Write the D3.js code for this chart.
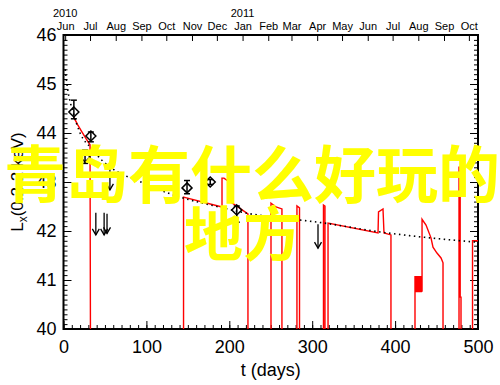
<!DOCTYPE html>
<html>
<head>
<meta charset="utf-8">
<script src="https://cdn.jsdelivr.net/npm/d3@7"></script>
<style>
  body { margin: 0; background: #fff; }
  text { font-family: "Liberation Sans", Arial, sans-serif; }
</style>
</head>
<body>
<div id="chart"></div>
<script>
// ---- data ----
const xTicks = [0, 100, 200, 300, 400, 500];
const yTicks = [40, 41, 42, 43, 44, 45, 46];
const startDate = new Date(2010, 4, 30);          // t = 0
const yearLabels = ["2010", "2011"];
const yearDates = [new Date(2010, 5, 1), new Date(2011, 0, 1)];

// detections (diamonds with error bars)
const detT  = [12.5, 33, 26, 149, 177, 209];
const detL  = [44.43, 43.94, 43.51, 42.88, 43.00, 42.43];
const detLo = [44.29, 43.82, 43.38, 42.76, 42.95, 42.18];
const detHi = [44.67, 44.02, 43.65, 43.03, 43.05, 42.51];

// upper limits (arrows)
const limT   = [39, 49, 52.5, 56, 307];
const limTop = [42.37, 42.37, 42.35, 43.35, 42.14];
const limL   = [41.92, 41.92, 41.95, 42.84, 41.65];

// model curve (dotted)
const modelT = [2, 5, 12, 20, 34, 46, 56, 96, 130, 190, 222, 261, 307, 382, 442, 500];
const modelL = [45.3, 44.9, 44.4, 44.0, 43.68, 43.45, 43.31, 42.98, 42.75, 42.48, 42.36, 42.27, 42.18, 41.98, 41.86, 41.77];

// red light-curve pieces [t, L]
const seg1 = [[12.5,44.32],[17,44.17],[22,44.03],[27,43.89],[32,43.76],[32.5,40]];
const seg2 = [[144.8,40],[144.8,42.69],[191.2,42.49],[191.2,43.08],[193.6,43.08],[198.4,43.02],[198.4,42.63],[222.5,42.35],[222.5,40]];
const seg3 = [[250.3,40],[250.3,42.57],[256.3,42.49],[263.5,42.45],[263.5,40]];
const seg4 = [[281.6,40],[281.6,42.51],[284.7,42.47],[284.7,40]];
const seg5 = [[313.6,40],[313.6,42.53],[315.4,42.51],[315.4,40]];
const seg6 = [[319.1,40],[319.1,42.16],[379.4,41.96],[380,42.39],[385.4,42.45],[386.6,41.96],[395,41.92],[395,40]];
const seg7 = [[424,40],[424,41.08],[424.4,40.76],[424.8,41.07],[425.2,40.75],[425.6,41.08],[426,40.76],[426.4,41.06],[426.8,40.75],
              [427.2,41.08],[427.6,40.76],[428,41.07],[428.4,40.75],[428.8,41.08],[429.2,40.76],[429.6,41.06],[430,40.75],
              [430.4,41.08],[430.8,40.76],[431.2,41.07],[431.6,40.75],[432,41.08],[432.5,40.76],
              [432.5,42.24],[437.3,42.12],[443.3,41.86],[445.7,41.67],[450.5,41.55],[455.4,41.45],[457.8,41.35],[457.8,40]];
const seg8 = [[477.1,40],[477.1,43.3],[478.5,43.3],[478.5,40.65],[479.5,40.65],[479.5,40]];
const seg9 = [[493.4,40],[493.4,41.8],[500,41.8]];
const lcSegments = [seg1, seg2, seg3, seg4, seg5, seg6, seg7, seg8, seg9];

const overlayLine1 = "青岛有什么好玩的";
const overlayLine2 = "地方";

// ---- layout ----
const W = 500, H = 385;
const mLeft = 63.5, mRight = 478, mTop = 35, mBottom = 329;

const svg = d3.select("#chart").append("svg")
    .attr("width", W).attr("height", H);

const x = d3.scaleLinear().domain([0, 500]).range([mLeft, mRight]);
const y = d3.scaleLinear().domain([40, 46]).range([mBottom, mTop]);
const endDate = d3.timeDay.offset(startDate, 500);
const xt = d3.scaleTime().domain([startDate, endDate]).range([mLeft, mRight]);

function styleAxis(g, size) {
    g.select(".domain").remove();
    g.selectAll("line").attr("stroke", "#000").attr("stroke-width", 1);
    g.selectAll("text").attr("fill", "#000")
        .style("font-family", '"Liberation Sans", Arial, sans-serif')
        .style("font-size", size + "px");
}

// bottom axis
svg.append("g").attr("transform", `translate(0,${mBottom})`)
    .call(d3.axisBottom(x).tickValues(d3.range(0, 501, 10)).tickSize(-4).tickFormat(""))
    .call(g => styleAxis(g, 18));
svg.append("g").attr("transform", `translate(0,${mBottom})`)
    .call(d3.axisBottom(x).tickValues(xTicks).tickSize(-8).tickPadding(11).tickFormat(d3.format("d")))
    .call(g => styleAxis(g, 18));

// left axis
const minorY = d3.range(400, 461).map(d => d / 10);
svg.append("g").attr("transform", `translate(${mLeft},0)`)
    .call(d3.axisLeft(y).tickValues(minorY).tickSize(-4).tickFormat(""))
    .call(g => styleAxis(g, 18));
svg.append("g").attr("transform", `translate(${mLeft},0)`)
    .call(d3.axisLeft(y).tickValues(yTicks).tickSize(-8).tickPadding(7).tickFormat(d3.format("d")))
    .call(g => styleAxis(g, 18));

// right axis (no labels)
svg.append("g").attr("transform", `translate(${mRight},0)`)
    .call(d3.axisRight(y).tickValues(minorY).tickSize(-4).tickFormat(""))
    .call(g => styleAxis(g, 18));
svg.append("g").attr("transform", `translate(${mRight},0)`)
    .call(d3.axisRight(y).tickValues(yTicks).tickSize(-8).tickFormat(""))
    .call(g => styleAxis(g, 18));

// top axis: months
svg.append("g").attr("transform", `translate(0,${mTop})`)
    .call(d3.axisTop(xt).ticks(d3.timeMonth.every(1)).tickSize(-6).tickPadding(5)
        .tickFormat(d3.timeFormat("%b")))
    .call(g => styleAxis(g, 11));

svg.selectAll(".year").data(yearLabels).join("text")
    .attr("class", "year")
    .attr("x", (d, i) => xt(yearDates[i]))
    .attr("y", 17)
    .attr("text-anchor", "middle")
    .style("font-size", "11px")
    .text(d => d);

// frame
svg.append("rect")
    .attr("x", mLeft).attr("y", mTop)
    .attr("width", mRight - mLeft).attr("height", mBottom - mTop)
    .attr("fill", "none").attr("stroke", "#000").attr("stroke-width", 2);

// axis titles
svg.append("text")
    .attr("x", (mLeft + mRight) / 2).attr("y", 376)
    .attr("text-anchor", "middle")
    .style("font-size", "18px")
    .text("t  (days)");

const yl = svg.append("text")
    .attr("transform", `translate(23,${(mTop + mBottom) / 2}) rotate(-90)`)
    .attr("text-anchor", "middle")
    .style("font-size", "17px");
yl.append("tspan").text("L");
yl.append("tspan").attr("dy", 4).style("font-size", "12px").text("x");
yl.append("tspan").attr("dy", -4).text("(0.2-2 keV)");

// plot content
const plot = svg.append("g");

// red light curve
const line = d3.line().x(d => x(d[0])).y(d => y(d[1]));
plot.selectAll(".lc").data(lcSegments).join("path")
    .attr("class", "lc")
    .attr("d", line)
    .attr("fill", "none")
    .attr("stroke", "#ff0000")
    .attr("stroke-width", 1.4);

// dotted model
const modelPts = modelT.map((t, i) => [t, modelL[i]]);
plot.append("path")
    .attr("d", d3.line().x(d => x(d[0])).y(d => y(d[1])).curve(d3.curveMonotoneX)(modelPts))
    .attr("fill", "none")
    .attr("stroke", "#000")
    .attr("stroke-width", 1.6)
    .attr("stroke-dasharray", "1.5,3.5");

// detections
const det = detT.map((t, i) => ({t, L: detL[i], lo: detLo[i], hi: detHi[i]}));
const dg = plot.selectAll(".det").data(det).join("g").attr("class", "det");
dg.append("line")
    .attr("x1", d => x(d.t)).attr("x2", d => x(d.t))
    .attr("y1", d => y(d.hi)).attr("y2", d => y(d.lo))
    .attr("stroke", "#000").attr("stroke-width", 1.5);
dg.append("line")
    .attr("x1", d => x(d.t) - 3).attr("x2", d => x(d.t) + 3)
    .attr("y1", d => y(d.hi)).attr("y2", d => y(d.hi))
    .attr("stroke", "#000").attr("stroke-width", 1.5);
dg.append("line")
    .attr("x1", d => x(d.t) - 3).attr("x2", d => x(d.t) + 3)
    .attr("y1", d => y(d.lo)).attr("y2", d => y(d.lo))
    .attr("stroke", "#000").attr("stroke-width", 1.5);
dg.append("path")
    .attr("d", d => {
        const cx = x(d.t), cy = y(d.L), r = 5;
        return `M${cx},${cy - r}L${cx + r},${cy}L${cx},${cy + r}L${cx - r},${cy}Z`;
    })
    .attr("fill", "none").attr("stroke", "#000").attr("stroke-width", 1.5);

// upper limits
const lim = limT.map((t, i) => ({t, hi: limTop[i], L: limL[i]}));
const ag = plot.selectAll(".lim").data(lim).join("g").attr("class", "lim");
ag.append("line")
    .attr("x1", d => x(d.t)).attr("x2", d => x(d.t))
    .attr("y1", d => y(d.hi)).attr("y2", d => y(d.L))
    .attr("stroke", "#000").attr("stroke-width", 1.3);
ag.append("path")
    .attr("d", d => {
        const cx = x(d.t), cy = y(d.L);
        return `M${cx - 3.5},${cy - 6}L${cx},${cy}L${cx + 3.5},${cy - 6}`;
    })
    .attr("fill", "none").attr("stroke", "#000").attr("stroke-width", 1.3);

// yellow overlay text
const cjk = '"Noto Sans CJK SC", "Noto Sans CJK JP", sans-serif';
svg.append("text")
    .attr("x", 252).attr("y", 198)
    .attr("text-anchor", "middle")
    .attr("fill", "#ffff00")
    .style("font-family", cjk).style("font-weight", 700).style("font-size", "62px")
    .text(overlayLine1);
svg.append("text")
    .attr("x", 243).attr("y", 256)
    .attr("text-anchor", "middle")
    .attr("fill", "#ffff00")
    .style("font-family", cjk).style("font-weight", 700).style("font-size", "59px")
    .text(overlayLine2);
</script>
</body>
</html>
